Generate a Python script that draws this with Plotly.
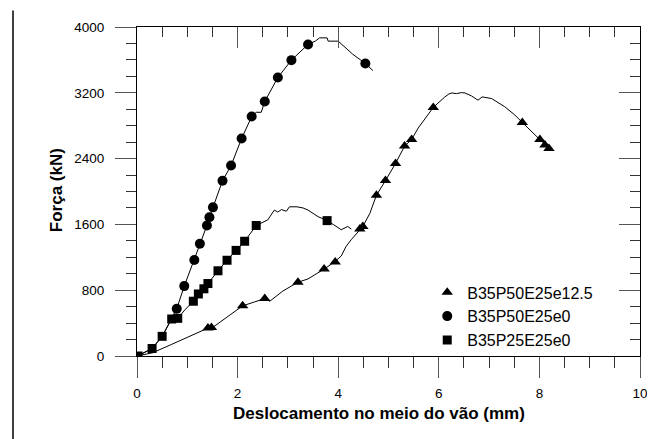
import plotly.graph_objects as go

# ---------------- data ----------------
# B35P50E25e12.5 (triangles)
line_a_x = [0, 0.31, 0.68, 1.14, 1.41, 1.50, 1.81, 2.10, 2.34, 2.54, 2.64, 2.90, 3.20, 3.40, 3.72, 3.93,
            4.06, 4.16, 4.26, 4.43, 4.49, 4.63, 4.76, 4.94, 5.14, 5.32, 5.46, 5.59, 5.89, 6.12, 6.20, 6.26,
            6.35, 6.45, 6.52, 6.65, 6.78, 6.86, 7.05, 7.31, 7.51, 7.66, 8.01, 8.11, 8.19, 8.24]
line_a_y = [0, 39, 139, 259, 339, 345, 478, 610, 658, 698, 666, 790, 897, 937, 1057, 1144,
            1216, 1335, 1415, 1543, 1575, 1735, 1954, 2133, 2341, 2552, 2632, 2771, 3022, 3150, 3185, 3198,
            3190, 3202, 3198, 3162, 3110, 3150, 3130, 3031, 2931, 2839, 2632, 2564, 2524, 2500]
mark_a_x = [1.41, 1.48, 2.10, 2.54, 3.20, 3.72, 3.94, 4.43, 4.49, 4.76, 4.94, 5.14, 5.32, 5.46, 5.89,
            7.66, 8.01, 8.11, 8.19]
mark_a_y = [339, 345, 610, 698, 897, 1057, 1144, 1543, 1575, 1954, 2133, 2341, 2552, 2632, 3022,
            2839, 2632, 2564, 2524]

# B35P50E25e0 (circles)
line_b_x = [0, 0.30, 0.50, 0.69, 0.79, 0.94, 1.14, 1.25, 1.39, 1.44, 1.51, 1.60, 1.70, 1.87, 2.08, 2.28,
            2.37, 2.47, 2.54, 2.80, 3.07, 3.40, 3.55, 3.63, 3.78, 3.80, 4.00, 4.29, 4.54, 4.69]
line_b_y = [0, 91, 239, 450, 574, 850, 1168, 1364, 1587, 1687, 1807, 1960, 2130, 2316, 2644, 2911,
            2963, 2963, 3094, 3386, 3597, 3788, 3830, 3868, 3868, 3828, 3828, 3668, 3557, 3470]
mark_b_x = [0.79, 0.94, 1.14, 1.25, 1.39, 1.44, 1.51, 1.70, 1.87, 2.08, 2.28, 2.54, 2.80, 3.07, 3.40, 4.54]
mark_b_y = [574, 850, 1168, 1364, 1587, 1687, 1807, 2130, 2316, 2644, 2911, 3094, 3386, 3597, 3788, 3557]

# B35P25E25e0 (squares)
line_c_x = [0.02, 0.30, 0.50, 0.69, 0.81, 0.95, 1.12, 1.22, 1.33, 1.41, 1.61, 1.79, 1.97, 2.14, 2.37,
            2.50, 2.60, 2.73, 2.80, 2.87, 2.97, 3.03, 3.18, 3.30, 3.40, 3.60, 3.78, 3.90, 4.06, 4.19, 4.26]
line_c_y = [0, 91, 239, 450, 458, 560, 666, 754, 817, 881, 1036, 1164, 1284, 1395, 1587,
            1630, 1655, 1774, 1750, 1780, 1760, 1814, 1814, 1800, 1774, 1694, 1646, 1600, 1535, 1575, 1543]
mark_c_x = [0.02, 0.30, 0.50, 0.69, 0.81, 1.12, 1.22, 1.33, 1.41, 1.61, 1.79, 1.97, 2.14, 2.37, 3.78]
mark_c_y = [0, 91, 239, 450, 458, 666, 754, 817, 881, 1036, 1164, 1284, 1395, 1587, 1646]

names = ["B35P50E25e12.5", "B35P50E25e0", "B35P25E25e0"]
x_ticks = [0, 2, 4, 6, 8, 10]
y_ticks = [0, 800, 1600, 2400, 3200, 4000]

FONT = "Arial, Liberation Sans, sans-serif"

fig = go.Figure()
for lx, ly in [(line_a_x, line_a_y), (line_b_x, line_b_y), (line_c_x, line_c_y)]:
    fig.add_trace(go.Scatter(x=lx, y=ly, mode="lines", line=dict(color="black", width=1),
                             showlegend=False, hoverinfo="skip"))

for mx, my, nm, sym, sz in [(mark_a_x, mark_a_y, names[0], "triangle-up", 10),
                             (mark_b_x, mark_b_y, names[1], "circle", 10),
                             (mark_c_x, mark_c_y, names[2], "square", 9)]:
    fig.add_trace(go.Scatter(x=mx, y=my, mode="markers", name=nm,
                             marker=dict(symbol=sym, size=sz, color="black")))

# invisible trace on the mirrored axes
fig.add_trace(go.Scatter(x=[None], y=[None], xaxis="x2", yaxis="y2", showlegend=False,
                         hoverinfo="skip"))

tick_font = dict(family=FONT, size=13.5, color="black")

fig.update_layout(
    width=655, height=439,
    margin=dict(l=129, r=23, t=14, b=91),
    paper_bgcolor="white", plot_bgcolor="white",
    showlegend=True,
    legend=dict(x=0.577, y=0.245, xanchor="left", yanchor="top",
                font=dict(family=FONT, size=16, color="black"),
                bgcolor="rgba(0,0,0,0)", tracegroupgap=0, itemwidth=30),
    xaxis=dict(range=[0, 10], tickvals=x_ticks, ticktext=[str(v) for v in x_ticks],
               showgrid=False, zeroline=False, showline=True, linecolor="black", linewidth=1,
               ticks="outside", ticklen=21, tickwidth=1, tickcolor="#555",
               ticklabelstandoff=4,
               minor=dict(dtick=0.5, ticks="outside", ticklen=11, tickwidth=1, tickcolor="#333",
                          showgrid=False),
               tickfont=tick_font),
    yaxis=dict(range=[0, 4000], tickvals=y_ticks, ticktext=[str(v) for v in y_ticks],
               showgrid=False, zeroline=False, showline=True, linecolor="black", linewidth=1,
               ticks="outside", ticklen=21, tickwidth=1, tickcolor="#555",
               ticklabelstandoff=8,
               minor=dict(dtick=200, ticks="outside", ticklen=10, tickwidth=1, tickcolor="#333",
                          showgrid=False),
               tickfont=tick_font),
    xaxis2=dict(range=[0, 10], overlaying="x", side="top", matches="x", tickvals=x_ticks,
                showticklabels=False, showgrid=False, zeroline=False, showline=True,
                linecolor="black", linewidth=1, ticks="inside", ticklen=21, tickwidth=1,
                tickcolor="#555",
                minor=dict(dtick=0.5, ticks="inside", ticklen=10, tickwidth=1, tickcolor="#333",
                           showgrid=False)),
    yaxis2=dict(range=[0, 4000], overlaying="y", side="right", matches="y", tickvals=y_ticks,
                showticklabels=False, showgrid=False, zeroline=False, showline=True,
                linecolor="black", linewidth=1, ticks="inside", ticklen=21, tickwidth=1,
                tickcolor="#555",
                minor=dict(dtick=200, ticks="inside", ticklen=10, tickwidth=1, tickcolor="#333",
                           showgrid=False)),
    annotations=[
        dict(text="<b>Deslocamento no meio do vão (mm)</b>", xref="paper", yref="paper",
             x=0.481, y=-0.176, xanchor="center", yanchor="middle", showarrow=False,
             font=dict(family=FONT, size=17, color="black")),
        dict(text="<b>Força (kN)</b>", xref="paper", yref="paper", textangle=-90,
             x=-0.161, y=0.504, xanchor="center", yanchor="middle", showarrow=False,
             font=dict(family=FONT, size=17, color="black")),
    ],
    shapes=[
        dict(type="line", xref="paper", yref="paper", x0=-0.2465, x1=-0.2465, y0=-0.28, y1=1.05,
             line=dict(color="black", width=1.5)),
    ],
)

fig.write_html("out.html")
